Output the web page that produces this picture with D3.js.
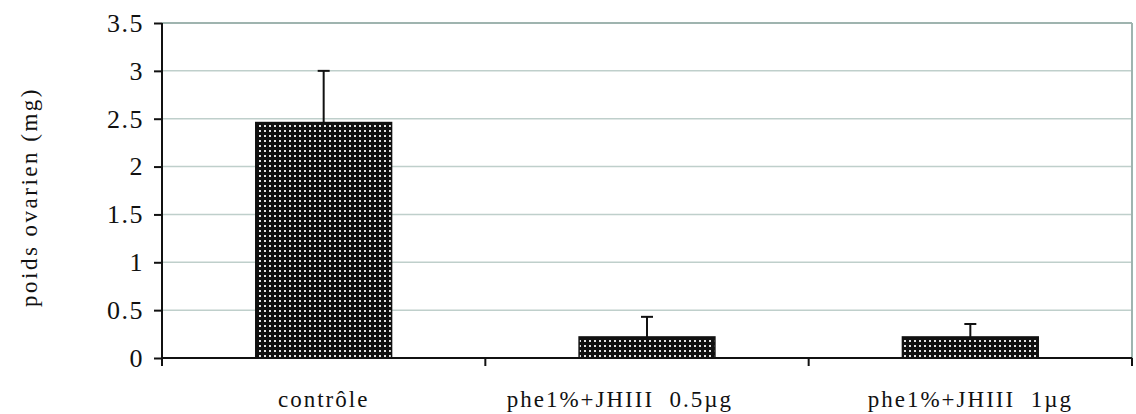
<!DOCTYPE html>
<html>
<head>
<meta charset="utf-8">
<script src="https://cdn.jsdelivr.net/npm/d3@7"></script>
<style>
  body { margin: 0; background: #fff; }
  text { font-family: "Liberation Serif", "DejaVu Serif", serif; fill: #111; }
</style>
</head>
<body>
<script>
// Data
var categories = ["contrôle", "phe1%+JHIII  0.5µg       ", "phe1%+JHIII  1µg"];
var means = [2.46, 0.22, 0.22];
var errors = [0.54, 0.21, 0.135];
var yTicks = [0, 0.5, 1, 1.5, 2, 2.5, 3, 3.5];
var yTitle = "poids ovarien (mg)";

var width = 1136, height = 414;
var margin = { top: 23, right: 4, bottom: 56, left: 162 };
var plot_w = width - margin.left - margin.right;
var plot_h = height - margin.top - margin.bottom;

var svg = d3.select("body").append("svg")
    .attr("width", width)
    .attr("height", height);

// dotted fill like the old Excel pattern
var pat = svg.append("defs").append("pattern")
    .attr("id", "dots")
    .attr("patternUnits", "userSpaceOnUse")
    .attr("width", 5)
    .attr("height", 5);
pat.append("rect").attr("width", 5).attr("height", 5).attr("fill", "#111");
pat.append("rect").attr("x", 2).attr("y", 2).attr("width", 2).attr("height", 2).attr("fill", "#e4e4e4");

var g = svg.append("g")
    .attr("transform", "translate(" + margin.left + "," + margin.top + ")");

var xScale = d3.scaleBand()
    .domain(categories)
    .range([0, plot_w])
    .paddingInner(0.58)
    .paddingOuter(0.29);

var xBounds = d3.scaleLinear().domain([0, categories.length]).range([0, plot_w]);

var yScale = d3.scaleLinear()
    .domain([0, 3.5])
    .range([plot_h, 0]);

// gridlines
g.selectAll(".grid")
    .data(yTicks.filter(function (d) { return d > 0; }))
    .enter().append("line")
    .attr("x1", 0)
    .attr("x2", plot_w)
    .attr("y1", function (d) { return yScale(d); })
    .attr("y2", function (d) { return yScale(d); })
    .attr("stroke", function (d) { return d === 3.5 ? "#9fb4af" : "#bfcfcb"; })
    .attr("stroke-width", function (d) { return d === 3.5 ? 2 : 1.5; });

// right border
g.append("line")
    .attr("x1", plot_w).attr("x2", plot_w)
    .attr("y1", 0).attr("y2", plot_h)
    .attr("stroke", "#9fb4af")
    .attr("stroke-width", 2);

// bars
g.selectAll(".bar")
    .data(means)
    .enter().append("rect")
    .attr("x", function (d, i) { return xScale(categories[i]); })
    .attr("y", function (d) { return yScale(d); })
    .attr("width", xScale.bandwidth())
    .attr("height", function (d) { return plot_h - yScale(d); })
    .attr("fill", "url(#dots)")
    .attr("stroke", "#111")
    .attr("stroke-width", 1.5);

// error bars (upper only)
var errG = g.selectAll(".err")
    .data(means)
    .enter().append("g");
errG.append("line")
    .attr("x1", function (d, i) { return xScale(categories[i]) + xScale.bandwidth() / 2; })
    .attr("x2", function (d, i) { return xScale(categories[i]) + xScale.bandwidth() / 2; })
    .attr("y1", function (d) { return yScale(d); })
    .attr("y2", function (d, i) { return yScale(d + errors[i]); })
    .attr("stroke", "#111")
    .attr("stroke-width", 2);
errG.append("line")
    .attr("x1", function (d, i) { return xScale(categories[i]) + xScale.bandwidth() / 2 - 6; })
    .attr("x2", function (d, i) { return xScale(categories[i]) + xScale.bandwidth() / 2 + 6; })
    .attr("y1", function (d, i) { return yScale(d + errors[i]); })
    .attr("y2", function (d, i) { return yScale(d + errors[i]); })
    .attr("stroke", "#111")
    .attr("stroke-width", 2);

// y axis
var yAxis = d3.axisLeft(yScale)
    .tickValues(yTicks)
    .tickSize(8)
    .tickPadding(10)
    .tickFormat(function (d) { return String(d); });
var yG = g.append("g").call(yAxis);
yG.select(".domain").attr("stroke", "#111").attr("stroke-width", 2).attr("d", "M0,0V" + plot_h);
yG.selectAll(".tick line").attr("stroke", "#111").attr("stroke-width", 2);
yG.selectAll(".tick text")
    .style("font-size", "26px")
    .style("letter-spacing", "1.5px")
    .attr("font-family", null);

// x axis: ticks at the category boundaries
var xG = g.append("g").attr("transform", "translate(0," + plot_h + ")");
xG.append("line")
    .attr("x1", 0).attr("x2", plot_w)
    .attr("stroke", "#111").attr("stroke-width", 2);
xG.selectAll(".xtick")
    .data(d3.range(categories.length + 1))
    .enter().append("line")
    .attr("x1", function (d) { return xBounds(d); })
    .attr("x2", function (d) { return xBounds(d); })
    .attr("y1", 0).attr("y2", 8)
    .attr("stroke", "#111").attr("stroke-width", 2);
xG.selectAll(".xlab")
    .data(categories)
    .enter().append("text")
    .attr("x", function (d) { return xScale(d) + xScale.bandwidth() / 2; })
    .attr("y", 49)
    .attr("text-anchor", "middle")
    .style("font-size", "23px")
    .style("letter-spacing", "2px")
    .style("white-space", "pre")
    .text(function (d) { return d; });

// y title
svg.append("text")
    .attr("transform", "translate(37," + 197 + ") rotate(-90)")
    .attr("text-anchor", "middle")
    .style("font-size", "23px")
    .style("letter-spacing", "2.5px")
    .text(yTitle);
</script>
</body>
</html>
